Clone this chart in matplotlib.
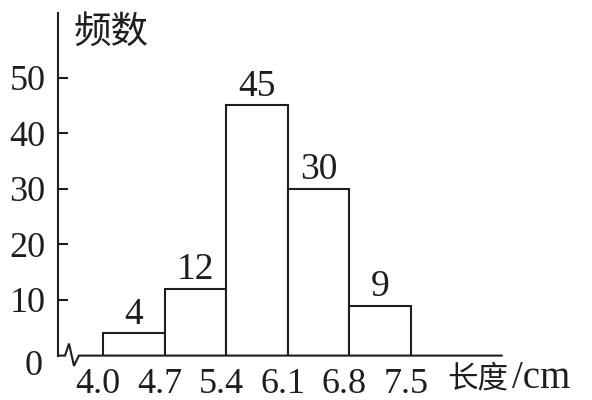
import matplotlib
matplotlib.use("Agg")
import matplotlib.pyplot as plt
import matplotlib.transforms as mtransforms

# group edges (cm) and counts
edges = [4.0, 4.7, 5.4, 6.1, 6.8, 7.5]
counts = [4, 12, 45, 30, 9]
edge_labels = ["4.0", "4.7", "5.4", "6.1", "6.8", "7.5"]
y_ticks = [10, 20, 30, 40, 50]

num_font = "Liberation Serif"
cjk_font = ["Noto Sans CJK SC", "DejaVu Sans"]
ink = "#1e1e1e"

fig = plt.figure(figsize=(5.92, 4.0), dpi=100)
ax = fig.add_axes([58 / 592, 44.4 / 400, 443.7 / 592, 342.6 / 400])

widths = [edges[i + 1] - edges[i] for i in range(len(counts))]
ax.bar(edges[:-1], counts, width=widths, align="edge",
       facecolor="white", edgecolor=ink, linewidth=1.5)

for left, w, c in zip(edges[:-1], widths, counts):
    ax.annotate(str(c), (left + w / 2, c), xytext=(0, 1),
                textcoords="offset points", ha="center", va="bottom",
                fontsize=27, family=num_font, color=ink)

ax.set_xlim(3.49, 8.53)
ax.set_ylim(0, 61.6)

# spines: only the left one, bottom is drawn by hand with a break mark
for s in ["top", "right", "bottom"]:
    ax.spines[s].set_visible(False)
ax.spines["left"].set_linewidth(1.5)
ax.spines["left"].set_color(ink)

bx = [0.0, 0.0158, 0.0248, 0.036, 0.047, 1.0]
by = [0.0, 0.0, 0.035, -0.03, 0.0, 0.0]
ax.plot(bx, by, transform=ax.transAxes, color=ink, lw=1.5,
        clip_on=False, solid_joinstyle="miter")

ax.set_yticks(y_ticks)
ax.set_yticklabels([str(t) for t in y_ticks])
ax.tick_params(axis="y", direction="in", length=7, width=1.5,
               color=ink, pad=9, labelsize=26)
for lab in ax.get_yticklabels():
    lab.set_family(num_font)
    lab.set_color(ink)

ax.set_xticks(edges)
ax.set_xticklabels(edge_labels)
ax.tick_params(axis="x", length=0, pad=9, labelsize=26)
shift = mtransforms.ScaledTranslation(-5 / 100, 0, fig.dpi_scale_trans)
for lab in ax.get_xticklabels():
    lab.set_family(num_font)
    lab.set_color(ink)
    lab.set_transform(lab.get_transform() + shift)

# the 0 sits a bit below the axis
ax.text(-0.035, -0.033, "0", transform=ax.transAxes, ha="right", va="center",
        fontsize=26, family=num_font, color=ink)

ax.text(0.034, 1.0, "频数", transform=ax.transAxes, ha="left", va="top",
        fontsize=27, family=cjk_font, color=ink)

ax.text(0.878, -0.068, "长度", transform=ax.transAxes, ha="left", va="center",
        fontsize=22, family=cjk_font, color=ink)
ax.text(1.024, -0.068, "/cm", transform=ax.transAxes, ha="left", va="center",
        fontsize=28, family=num_font, color=ink)

fig.savefig("out.png", dpi=100)
